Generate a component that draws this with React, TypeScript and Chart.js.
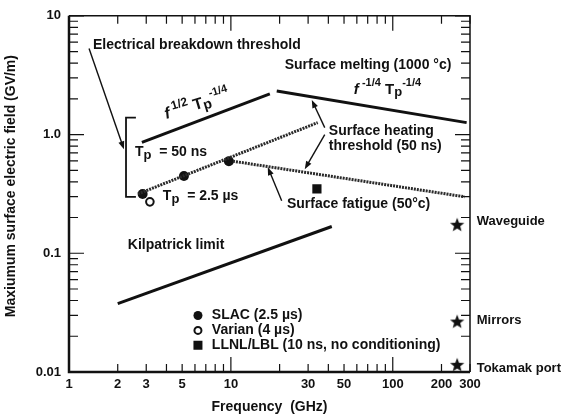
import React, { useEffect, useRef } from "react";
import { Chart, registerables } from "chart.js";

Chart.register(...registerables);

type Pt = { x: number; y: number };

const FONT = '"Liberation Sans", Arial, Helvetica, sans-serif';
const INK = "#111111";

// Axis ticks
const xTickValues = [1, 2, 3, 5, 10, 30, 50, 100, 200, 300];
const yTickValues = [0.01, 0.1, 1, 10];
const yTickLabels = ["0.01", "0.1", "1.0", "10"];

// Threshold curves (frequency GHz, field GV/m)
const breakdownRising: Pt[] = [
  { x: 2.82, y: 0.858 },
  { x: 17.4, y: 2.2 },
];
const meltingFalling: Pt[] = [
  { x: 19.2, y: 2.33 },
  { x: 286, y: 1.26 },
];
const heatingThreshold: Pt[] = [
  { x: 2.67, y: 0.316 },
  { x: 34.4, y: 1.26 },
];
const fatigueThreshold: Pt[] = [
  { x: 10.3, y: 0.596 },
  { x: 278, y: 0.299 },
];
const kilpatrickLimit: Pt[] = [
  { x: 2, y: 0.0376 },
  { x: 42, y: 0.168 },
];

// Measured points
const slacPoints: Pt[] = [
  { x: 2.85, y: 0.316 },
  { x: 5.13, y: 0.447 },
  { x: 9.72, y: 0.596 },
];
const varianPoints: Pt[] = [{ x: 3.16, y: 0.271 }];
const llnlPoints: Pt[] = [{ x: 34, y: 0.348 }];

// Existing high-power systems
const systemFreq = 250;
const systemFields = [0.174, 0.0266, 0.0115];
const systemNames = ["Waveguide", "Mirrors", "Tokamak port"];
const systemLabelFreq = 330;
const systemLabelFields = [0.185, 0.0271, 0.0108];

// Legend
const legendNames = ["SLAC (2.5 \u00b5s)", "Varian (4 \u00b5s)", "LLNL/LBL (10 ns, no conditioning)"];
const legendMarkers = ["dot", "ring", "square"];
const legendMarkerFreq = 6.26;
const legendTextFreq = 7.63;
const legendFields = [0.0299, 0.0224, 0.0168];

type Run = { t: string; dy?: number; size?: number; italic?: boolean };
type Note = { x: number; y: number; runs: Run[]; size?: number; angle?: number };

const notes: Note[] = [
  { x: 1.406, y: 5.62, size: 14, runs: [{ t: "Electrical breakdown threshold" }] },
  { x: 21.5, y: 3.83, size: 14, runs: [{ t: "Surface melting (1000 \u00b0c)" }] },
  {
    x: 57.5,
    y: 2.4,
    size: 15,
    runs: [
      { t: "f", italic: true },
      { t: " -1/4", dy: -6, size: 11 },
      { t: " T" },
      { t: "p", dy: 3, size: 13 },
      { t: "-1/4", dy: -6, size: 11 },
    ],
  },
  {
    x: 3.91,
    y: 1.468,
    size: 16,
    angle: -17,
    runs: [
      { t: "f", italic: true },
      { t: " 1/2", dy: -6, size: 12 },
      { t: " T" },
      { t: "p", dy: 3, size: 14 },
      { t: "-1/4", dy: -7, size: 11 },
    ],
  },
  { x: 2.555, y: 0.708, size: 14, runs: [{ t: "T" }, { t: "p", dy: 3, size: 13 }, { t: "  = 50 ns" }] },
  { x: 3.8, y: 0.304, size: 14, runs: [{ t: "T" }, { t: "p", dy: 3, size: 13 }, { t: "  = 2.5 \u00b5s" }] },
  { x: 40.3, y: 1.059, size: 14, runs: [{ t: "Surface heating" }] },
  { x: 40.3, y: 0.794, size: 14, runs: [{ t: "threshold (50 ns)" }] },
  { x: 22.2, y: 0.261, size: 14, runs: [{ t: "Surface fatigue (50\u00b0c)" }] },
  { x: 2.31, y: 0.1166, size: 14, runs: [{ t: "Kilpatrick limit" }] },
];

// Arrows: [fromX, fromY, toX, toY]
const arrows: number[][] = [
  [1.33, 5.31, 2.185, 0.75],
  [38.0, 1.144, 31.6, 1.957],
  [38.0, 1.0, 28.6, 0.511],
  [20.6, 0.277, 16.9, 0.531],
];

// Bracket grouping the two pulse lengths
const bracketFreq = 2.25;
const bracketTickFreq = 2.59;
const bracketTop = 1.386;
const bracketBottom = 0.298;

function makeStar(): HTMLCanvasElement {
  const c = document.createElement("canvas");
  c.width = 16;
  c.height = 16;
  const g = c.getContext("2d")!;
  g.fillStyle = INK;
  g.beginPath();
  for (let i = 0; i < 10; i++) {
    const r = i % 2 === 0 ? 7.5 : 3.2;
    const a = -Math.PI / 2 + (i * Math.PI) / 5;
    const px = 8 + r * Math.cos(a);
    const py = 8.5 + r * Math.sin(a);
    if (i === 0) g.moveTo(px, py);
    else g.lineTo(px, py);
  }
  g.closePath();
  g.fill();
  return c;
}

function drawRuns(ctx: CanvasRenderingContext2D, runs: Run[], x: number, y: number, base: number) {
  let cx = x;
  for (const r of runs) {
    const size = r.size ?? base;
    ctx.font = `${r.italic ? "italic " : ""}bold ${size}px ${FONT}`;
    ctx.fillText(r.t, cx, y + (r.dy ?? 0));
    cx += ctx.measureText(r.t).width;
  }
}

function drawArrow(ctx: CanvasRenderingContext2D, x1: number, y1: number, x2: number, y2: number) {
  const ang = Math.atan2(y2 - y1, x2 - x1);
  const len = 8;
  const half = 3;
  ctx.beginPath();
  ctx.moveTo(x1, y1);
  ctx.lineTo(x2 - Math.cos(ang) * len * 0.8, y2 - Math.sin(ang) * len * 0.8);
  ctx.stroke();
  ctx.beginPath();
  ctx.moveTo(x2, y2);
  ctx.lineTo(
    x2 - Math.cos(ang) * len - Math.sin(ang) * half,
    y2 - Math.sin(ang) * len + Math.cos(ang) * half
  );
  ctx.lineTo(
    x2 - Math.cos(ang) * len + Math.sin(ang) * half,
    y2 - Math.sin(ang) * len - Math.cos(ang) * half
  );
  ctx.closePath();
  ctx.fill();
}

const framePlugin = {
  id: "frameAndTicks",
  beforeDatasetsDraw(chart: any) {
    const { ctx, chartArea } = chart;
    const xs = chart.scales.x;
    const ys = chart.scales.y;
    const { left, right, top, bottom } = chartArea;
    ctx.save();
    ctx.strokeStyle = INK;
    ctx.lineCap = "butt";
    // inward tick marks on all four sides
    ctx.lineWidth = 1.2;
    for (let d = 1; d <= 100; d *= 10) {
      for (let m = 1; m <= 9; m++) {
        const v = m * d;
        if (v < 1 || v > 300) continue;
        const px = xs.getPixelForValue(v);
        const l = m === 1 ? 15 : 8;
        ctx.beginPath();
        ctx.moveTo(px, bottom);
        ctx.lineTo(px, bottom - l);
        ctx.moveTo(px, top);
        ctx.lineTo(px, top + l);
        ctx.stroke();
      }
    }
    for (let d = 0.01; d <= 10.001; d *= 10) {
      for (let m = 1; m <= 9; m++) {
        const v = m * d;
        if (v > 10.001) continue;
        const py = ys.getPixelForValue(v);
        const l = m === 1 ? 15 : 9;
        ctx.beginPath();
        ctx.moveTo(left, py);
        ctx.lineTo(left + l, py);
        ctx.moveTo(right, py);
        ctx.lineTo(right - l, py);
        ctx.stroke();
      }
    }
    // frame
    ctx.lineWidth = 1.5;
    ctx.beginPath();
    ctx.moveTo(left, top);
    ctx.lineTo(right, top);
    ctx.lineTo(right, bottom);
    ctx.stroke();
    ctx.lineWidth = 2.5;
    ctx.beginPath();
    ctx.moveTo(left, top);
    ctx.lineTo(left, bottom);
    ctx.lineTo(right, bottom);
    ctx.stroke();
    ctx.restore();
  },
  afterDatasetsDraw(chart: any) {
    const { ctx } = chart;
    const xs = chart.scales.x;
    const ys = chart.scales.y;
    const X = (v: number) => xs.getPixelForValue(v);
    const Y = (v: number) => ys.getPixelForValue(v);
    ctx.save();
    ctx.fillStyle = INK;
    ctx.strokeStyle = INK;
    ctx.textBaseline = "middle";
    ctx.textAlign = "left";

    for (const n of notes) {
      const base = n.size ?? 13;
      ctx.save();
      ctx.translate(X(n.x), Y(n.y));
      if (n.angle) ctx.rotate((n.angle * Math.PI) / 180);
      drawRuns(ctx, n.runs, 0, 0, base);
      ctx.restore();
    }

    ctx.lineWidth = 1.4;
    for (const a of arrows) drawArrow(ctx, X(a[0]), Y(a[1]), X(a[2]), Y(a[3]));

    // bracket
    ctx.lineWidth = 1.8;
    ctx.beginPath();
    ctx.moveTo(X(bracketTickFreq), Y(bracketTop));
    ctx.lineTo(X(bracketFreq), Y(bracketTop));
    ctx.lineTo(X(bracketFreq), Y(bracketBottom));
    ctx.lineTo(X(bracketTickFreq), Y(bracketBottom));
    ctx.stroke();

    // legend
    legendNames.forEach((name, i) => {
      const mx = X(legendMarkerFreq);
      const my = Y(legendFields[i]);
      const kind = legendMarkers[i];
      if (kind === "dot") {
        ctx.beginPath();
        ctx.arc(mx, my, 4.5, 0, Math.PI * 2);
        ctx.fill();
      } else if (kind === "ring") {
        ctx.lineWidth = 2;
        ctx.beginPath();
        ctx.arc(mx, my, 3.5, 0, Math.PI * 2);
        ctx.stroke();
      } else {
        ctx.fillRect(mx - 4.5, my - 4.5, 9, 9);
      }
      ctx.font = `bold 14px ${FONT}`;
      ctx.fillText(name, X(legendTextFreq), my);
    });

    // system labels beside the right axis
    ctx.font = `bold 13px ${FONT}`;
    systemNames.forEach((name, i) => {
      ctx.fillText(name, X(systemLabelFreq), Y(systemLabelFields[i]));
    });
    ctx.restore();
  },
};

export default function App() {
  const ref = useRef<HTMLCanvasElement | null>(null);

  useEffect(() => {
    if (!ref.current) return;
    const star = makeStar();
    const solid = (data: Pt[]) => ({
      data,
      showLine: true,
      borderColor: INK,
      borderWidth: 3,
      pointRadius: 0,
      fill: false,
    });
    const hatched = (data: Pt[]) => ({
      data,
      showLine: true,
      borderColor: "#2a2a2a",
      borderWidth: 3,
      borderDash: [2, 1],
      pointRadius: 0,
      fill: false,
    });
    const chart = new Chart(ref.current, {
      type: "scatter",
      data: {
        datasets: [
          { label: "f^1/2 Tp^-1/4", ...solid(breakdownRising) },
          { label: "Surface melting", ...solid(meltingFalling) },
          { label: "Surface heating threshold", ...hatched(heatingThreshold) },
          { label: "Surface fatigue", ...hatched(fatigueThreshold) },
          { label: "Kilpatrick limit", ...solid(kilpatrickLimit) },
          {
            label: "SLAC (2.5 \u00b5s)",
            data: slacPoints,
            pointStyle: "circle",
            pointRadius: 5,
            backgroundColor: INK,
            borderColor: INK,
            borderWidth: 0,
          },
          {
            label: "Varian (4 \u00b5s)",
            data: varianPoints,
            pointStyle: "circle",
            pointRadius: 3.8,
            backgroundColor: "#ffffff",
            borderColor: INK,
            borderWidth: 2,
          },
          {
            label: "LLNL/LBL (10 ns, no conditioning)",
            data: llnlPoints,
            pointStyle: "rect",
            pointRadius: 6.5,
            backgroundColor: INK,
            borderColor: INK,
            borderWidth: 0,
          },
          {
            label: "Systems",
            data: systemFields.map((y) => ({ x: systemFreq, y })),
            pointStyle: star as any,
            pointRadius: 8,
          },
        ],
      },
      options: {
        animation: false,
        responsive: false,
        events: [],
        layout: { padding: { left: 0, right: 101, top: 11, bottom: 0 } },
        plugins: { legend: { display: false }, tooltip: { enabled: false } },
        scales: {
          x: {
            type: "logarithmic",
            min: 1,
            max: 300,
            grid: { display: false, drawTicks: false },
            border: { display: false },
            afterBuildTicks: (s: any) => {
              s.ticks = xTickValues.map((v) => ({ value: v }));
            },
            afterFit: (s: any) => {
              s.height = 46;
            },
            ticks: {
              autoSkip: false,
              maxRotation: 0,
              padding: 5,
              color: INK,
              font: { family: FONT, size: 13, weight: "bold" },
              callback: (v: any) => String(v),
            },
            title: {
              display: true,
              text: "Frequency  (GHz)",
              color: INK,
              font: { family: FONT, size: 14, weight: "bold" },
              padding: { top: 0, bottom: 2 },
            },
          },
          y: {
            type: "logarithmic",
            min: 0.01,
            max: 10,
            grid: { display: false, drawTicks: false },
            border: { display: false },
            afterBuildTicks: (s: any) => {
              s.ticks = yTickValues.map((v) => ({ value: v }));
            },
            afterFit: (s: any) => {
              s.width = 69;
            },
            ticks: {
              autoSkip: false,
              padding: 8,
              color: INK,
              font: { family: FONT, size: 13, weight: "bold" },
              callback: (v: any) => {
                const i = yTickValues.findIndex((t) => Math.abs(t - Number(v)) < 1e-9);
                return i >= 0 ? yTickLabels[i] : "";
              },
            },
            title: {
              display: true,
              text: "    Maxiumum surface electric field (GV/m)",
              color: INK,
              font: { family: FONT, size: 14, weight: "bold" },
              padding: { top: 3, bottom: 0 },
            },
          },
        },
      },
      plugins: [framePlugin],
    } as any);
    return () => chart.destroy();
  }, []);

  return (
    <div style={{ position: "fixed", left: 0, top: 0, width: 571, height: 418, background: "#ffffff" }}>
      <canvas ref={ref} width={571} height={418} style={{ display: "block" }} />
    </div>
  );
}
